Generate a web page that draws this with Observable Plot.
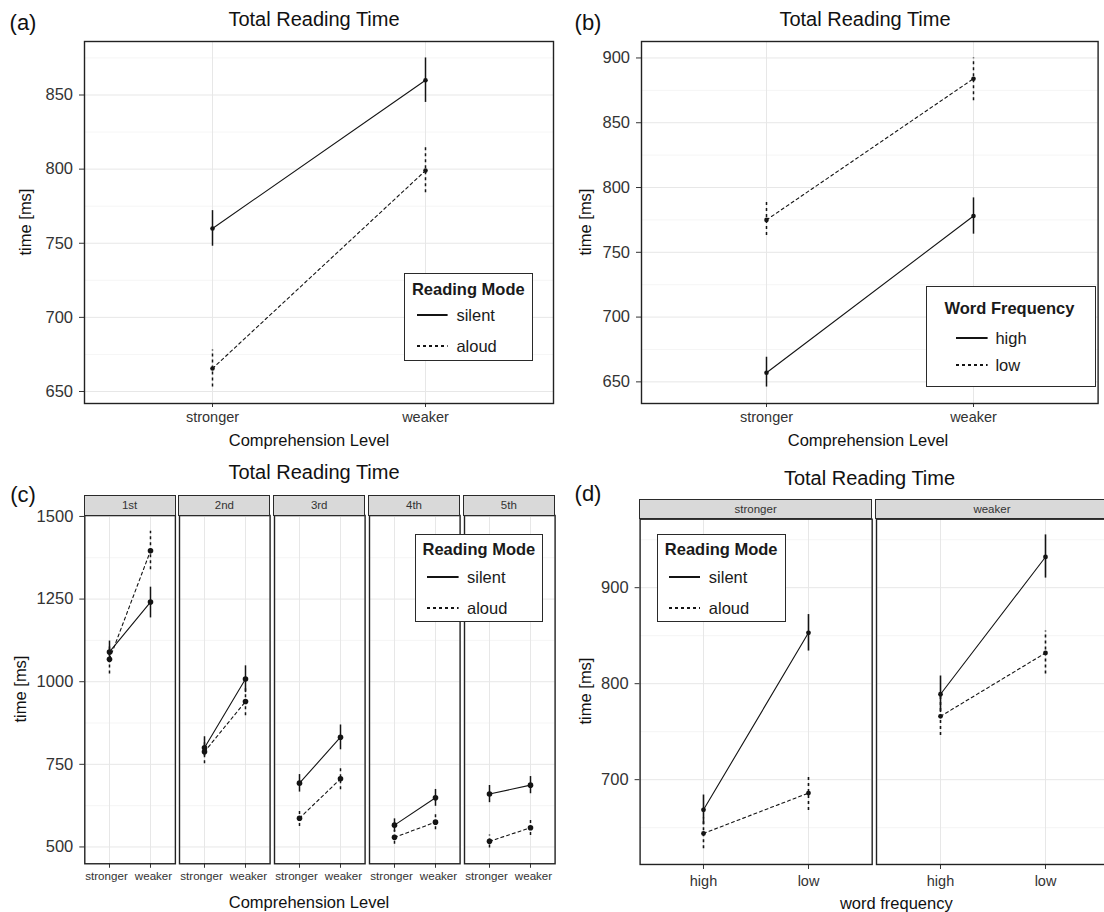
<!DOCTYPE html>
<html>
<head>
<meta charset="utf-8">
<script src="https://cdn.jsdelivr.net/npm/d3@7"></script>
<script src="https://cdn.jsdelivr.net/npm/@observablehq/plot@0.6"></script>
<style>
  html, body { margin: 0; padding: 0; background: #fff; }
  #root { position: relative; width: 1104px; height: 912px; overflow: hidden; background: #fff;
          font-family: "Liberation Sans", Arial, Helvetica, sans-serif; color: #000; }
  .t { position: absolute; white-space: nowrap; line-height: 1; }
  .legend { position: absolute; box-sizing: border-box; border: 1.8px solid #2a2a2a; background: #fff; }
  .strip { position: absolute; box-sizing: border-box; border: 1.4px solid #2a2a2a; background: #d9d9d9;
           color: #333; font-size: 11.5px; display: flex; align-items: center; justify-content: center; }
</style>
</head>
<body>
<div id="root"></div>
<script>
// ------------------------------------------------------------------ DATA
const levels = ["stronger", "weaker"];          // comprehension level
const freqs = ["high", "low"];                  // word frequency
const grades = ["1st", "2nd", "3rd", "4th", "5th"];

// (a) reading mode, by comprehension level [stronger, weaker]
const aSilentMean = [760, 860];
const aSilentLo   = [748, 845];
const aSilentHi   = [772, 875];
const aAloudMean  = [665.5, 799];
const aAloudLo    = [653, 784];
const aAloudHi    = [678, 815];

// (b) word frequency, by comprehension level [stronger, weaker]
const bHighMean = [657, 778];
const bHighLo   = [646, 764];
const bHighHi   = [669, 792];
const bLowMean  = [775, 884];
const bLowLo    = [763, 867];
const bLowHi    = [789, 900];

// (c) reading mode by grade; one array per (mode, level), over grades 1st..5th
const cSilentStrongMean = [1090, 800, 693, 566, 660];
const cSilentStrongLo   = [1057, 775, 666, 545, 634];
const cSilentStrongHi   = [1123, 825, 719, 585, 686];
const cSilentWeakMean   = [1241, 1008, 832, 649, 687];
const cSilentWeakLo     = [1193, 967, 794, 623, 661];
const cSilentWeakHi     = [1286, 1048, 869, 674, 713];
const cAloudStrongMean  = [1068, 788, 587, 529, 517];
const cAloudStrongLo    = [1023, 752, 562, 508, 497];
const cAloudStrongHi    = [1113, 834, 612, 550, 536];
const cAloudWeakMean    = [1396, 940, 706, 575, 558];
const cAloudWeakLo      = [1339, 897, 673, 552, 535];
const cAloudWeakHi      = [1455, 982, 739, 598, 580];

// (d) reading mode by word frequency; arrays over comprehension level [stronger, weaker]
const dSilentHighMean = [668.6, 789];
const dSilentHighLo   = [653, 770];
const dSilentHighHi   = [684, 808];
const dSilentLowMean  = [853, 932];
const dSilentLowLo    = [834, 910];
const dSilentLowHi    = [872, 955];
const dAloudHighMean  = [644, 766];
const dAloudHighLo    = [628, 746];
const dAloudHighHi    = [660, 787];
const dAloudLowMean   = [686, 832];
const dAloudLowLo     = [668, 810];
const dAloudLowHi     = [704, 855];

// tick values
const aTicks = [650, 700, 750, 800, 850];
const aMinor = [675, 725, 775, 825, 875];
const bTicks = [650, 700, 750, 800, 850, 900];
const bMinor = [675, 725, 775, 825, 875];
const cTicks = [500, 750, 1000, 1250, 1500];
const cMinor = [625, 875, 1125, 1375];
const dTicks = [700, 800, 900];
const dMinor = [650, 750, 850, 950];

// ------------------------------------------------------------------ helpers
const INK = "#141414";
const DASH = "3,3";
const root = document.getElementById("root");

function rows(xs, series, mean, lo, hi) {
  return xs.map((x, i) => ({x, series, mean: mean[i], lo: lo[i], hi: hi[i]}));
}
function expanded(rs) {          // ggplot-style 5% expansion of the data range
  const lo = d3.min(rs, d => d.lo), hi = d3.max(rs, d => d.hi);
  const pad = (hi - lo) * 0.05;
  return [lo - pad, hi + pad];
}

function chart(o) {
  const {data, xDomain, series, yDomain, yTicks, yMinor, showY, frame, svgLeft, svgTop, svgWidth, svgHeight,
         xTickSize = 4.5, xTickPad = 4, xFont = 14.5, dotR = 2.3, errW = 1.5, xShift = null} = o;
  const marks = [
    Plot.ruleY(yMinor, {stroke: "#f3f3f3", strokeWidth: 0.8}),
    Plot.ruleY(yTicks, {stroke: "#e7e7e7", strokeWidth: 1}),
    Plot.ruleX(xDomain, {stroke: "#e7e7e7", strokeWidth: 1})
  ];
  for (const s of series) {
    const r = data.filter(d => d.series === s.name);
    marks.push(
      Plot.ruleX(r, {x: "x", y1: "lo", y2: "hi", stroke: INK, strokeWidth: errW, strokeDasharray: s.dash}),
      Plot.line(r, {x: "x", y: "mean", stroke: INK, strokeWidth: 1.1, strokeDasharray: s.dash}),
      Plot.dot(r, {x: "x", y: "mean", r: dotR, fill: INK})
    );
  }
  marks.push(Plot.frame({stroke: "#222", strokeWidth: 1.4}));
  const svg = Plot.plot({
    width: svgWidth, height: svgHeight,
    marginLeft: frame.left - svgLeft,
    marginRight: svgLeft + svgWidth - frame.right,
    marginTop: frame.top - svgTop,
    marginBottom: svgTop + svgHeight - frame.bottom,
    style: {fontFamily: '"Liberation Sans", Arial, sans-serif', fontSize: "16.5px", color: "#333",
            background: "transparent", overflow: "visible", maxWidth: "none"},
    x: {type: "point", domain: xDomain, padding: 0.6, axis: "bottom", tickSize: xTickSize, tickPadding: xTickPad, label: null},
    y: {domain: yDomain, nice: false, ticks: yTicks, tickFormat: d => String(d), tickSize: 5, tickPadding: 6.5,
        label: null, axis: showY ? "left" : null},
    marks
  });
  svg.style.position = "absolute";
  svg.style.left = svgLeft + "px";
  svg.style.top = svgTop + "px";
  svg.style.overflow = "visible";
  svg.querySelectorAll('[aria-label^="x-axis"] text').forEach(t => {
    t.style.fontSize = xFont + "px";
    if (xShift && xShift[t.textContent] != null) t.setAttribute("dx", xShift[t.textContent]);
  });
  svg.querySelectorAll('[aria-label^="y-axis"] text').forEach(t => { t.style.fontSize = "16.5px"; });
  root.appendChild(svg);
  return svg;
}

function text(str, cx, cy, {size = 16.5, weight = "normal", rotate = 0, color = "#111", anchor = "middle"} = {}) {
  const d = document.createElement("div");
  d.className = "t";
  d.textContent = str;
  d.style.left = cx + "px";
  d.style.top = cy + "px";
  d.style.fontSize = size + "px";
  d.style.fontWeight = weight;
  d.style.color = color;
  const tx = anchor === "middle" ? "-50%" : "0";
  d.style.transform = `translate(${tx}, -50%)` + (rotate ? ` rotate(${rotate}deg)` : "");
  root.appendChild(d);
}

function legend(title, items, box, lay) {
  const d = document.createElement("div");
  d.className = "legend";
  Object.assign(d.style, {left: box.left + "px", top: box.top + "px", width: box.w + "px", height: box.h + "px"});
  root.appendChild(d);
  const add = (str, x, y, bold) => {
    const t = document.createElement("div");
    t.className = "t";
    t.textContent = str;
    Object.assign(t.style, {left: x + "px", top: y + "px", fontSize: "16.5px", fontWeight: bold ? "bold" : "normal",
                            transform: "translate(0,-50%)", color: "#1a1a1a"});
    d.appendChild(t);
  };
  add(title, lay.titleX, lay.titleY, true);
  items.forEach((it, i) => {
    const y = lay.itemY[i];
    const s = d3.create("svg").attr("width", lay.lineX2 - lay.lineX1 + 2).attr("height", 6)
      .style("position", "absolute").style("left", (lay.lineX1 - 1) + "px").style("top", (y - 3) + "px");
    s.append("line").attr("x1", 1).attr("x2", lay.lineX2 - lay.lineX1 + 1).attr("y1", 3).attr("y2", 3)
      .attr("stroke", INK).attr("stroke-width", 2).attr("stroke-dasharray", it.dash || null);
    d.appendChild(s.node());
    add(it.name, lay.textX, y, false);
  });
}

function strip(label, left, top, w, h) {
  const d = document.createElement("div");
  d.className = "strip";
  d.textContent = label;
  Object.assign(d.style, {left: left + "px", top: top + "px", width: w + "px", height: h + "px"});
  root.appendChild(d);
}

const modeSeries = [{name: "silent", dash: null}, {name: "aloud", dash: DASH}];
const freqSeries = [{name: "high", dash: null}, {name: "low", dash: DASH}];

// ------------------------------------------------------------------ panel (a)
const aData = [
  ...rows(levels, "silent", aSilentMean, aSilentLo, aSilentHi),
  ...rows(levels, "aloud", aAloudMean, aAloudLo, aAloudHi)
];
chart({data: aData, xDomain: levels, series: modeSeries, yDomain: expanded(aData), yTicks: aTicks, yMinor: aMinor,
       showY: true, frame: {left: 84, top: 41, right: 553, bottom: 403},
       svgLeft: 0, svgTop: 0, svgWidth: 562, svgHeight: 440, xTickSize: 4, xTickPad: 4});
text("(a)", 23, 23, {size: 22});
text("Total Reading Time", 314, 18.5, {size: 20});
text("Comprehension Level", 309, 440);
text("time [ms]", 24.6, 222, {rotate: -90});
legend("Reading Mode", modeSeries, {left: 404.4, top: 273, w: 128.4, h: 88},
       {titleX: 6.5, titleY: 15, itemY: [41.3, 72], lineX1: 11.6, lineX2: 42.2, textX: 51});

// ------------------------------------------------------------------ panel (b)
const bData = [
  ...rows(levels, "high", bHighMean, bHighLo, bHighHi),
  ...rows(levels, "low", bLowMean, bLowLo, bLowHi)
];
chart({data: bData, xDomain: levels, series: freqSeries, yDomain: expanded(bData), yTicks: bTicks, yMinor: bMinor,
       showY: true, frame: {left: 641, top: 41, right: 1097.6, bottom: 403},
       svgLeft: 570, svgTop: 0, svgWidth: 534, svgHeight: 440, xTickSize: 4, xTickPad: 4});
text("(b)", 588, 23, {size: 22});
text("Total Reading Time", 865, 18.5, {size: 20});
text("Comprehension Level", 868, 440);
text("time [ms]", 585.4, 222, {rotate: -90});
legend("Word Frequency", freqSeries, {left: 925.5, top: 286, w: 170.5, h: 101},
       {titleX: 18, titleY: 20.7, itemY: [51, 78], lineX1: 29.2, lineX2: 60.8, textX: 68.9});

// ------------------------------------------------------------------ panel (c)
const cData = [];
grades.forEach((g, i) => {
  cData.push(
    {grade: g, x: "stronger", series: "silent", mean: cSilentStrongMean[i], lo: cSilentStrongLo[i], hi: cSilentStrongHi[i]},
    {grade: g, x: "weaker",   series: "silent", mean: cSilentWeakMean[i],   lo: cSilentWeakLo[i],   hi: cSilentWeakHi[i]},
    {grade: g, x: "stronger", series: "aloud",  mean: cAloudStrongMean[i],  lo: cAloudStrongLo[i],  hi: cAloudStrongHi[i]},
    {grade: g, x: "weaker",   series: "aloud",  mean: cAloudWeakMean[i],    lo: cAloudWeakLo[i],    hi: cAloudWeakHi[i]}
  );
});
const cDomain = expanded(cData);
const cW = 90.6, cGap = 4.2, cLeft0 = 84.3;
grades.forEach((g, i) => {
  const fl = cLeft0 + i * (cW + cGap), fr = fl + cW;
  const sl = i === 0 ? 0 : fl - 2;
  chart({data: cData.filter(d => d.grade === g), xDomain: levels, series: modeSeries, yDomain: cDomain,
         yTicks: cTicks, yMinor: cMinor, showY: i === 0,
         frame: {left: fl, top: 515, right: fr, bottom: 863.3},
         svgLeft: sl, svgTop: 500, svgWidth: fr + 2 - sl, svgHeight: 395,
         xTickSize: 4.5, xTickPad: 3.5, xFont: 11.6, dotR: 2.8, errW: 1.5,
         xShift: {stronger: -3, weaker: 3}});
  strip(g, fl - 0.7, 495, cW + 1.4, 20.7);
});
text("(c)", 23, 495, {size: 22});
text("Total Reading Time", 314, 472.3, {size: 20});
text("Comprehension Level", 309, 901.7);
text("time [ms]", 20.4, 689, {rotate: -90});
legend("Reading Mode", modeSeries, {left: 415, top: 534, w: 127.7, h: 88.3},
       {titleX: 6.5, titleY: 14.3, itemY: [41.7, 72.7], lineX1: 10.6, lineX2: 42.2, textX: 51});

// ------------------------------------------------------------------ panel (d)
const dData = [];
levels.forEach((lv, i) => {
  dData.push(
    {group: lv, x: "high", series: "silent", mean: dSilentHighMean[i], lo: dSilentHighLo[i], hi: dSilentHighHi[i]},
    {group: lv, x: "low",  series: "silent", mean: dSilentLowMean[i],  lo: dSilentLowLo[i],  hi: dSilentLowHi[i]},
    {group: lv, x: "high", series: "aloud",  mean: dAloudHighMean[i],  lo: dAloudHighLo[i],  hi: dAloudHighHi[i]},
    {group: lv, x: "low",  series: "aloud",  mean: dAloudLowMean[i],   lo: dAloudLowLo[i],   hi: dAloudLowHi[i]}
  );
});
const dDomain = expanded(dData);
const dW = 232.1, dGap = 4.2, dLeft0 = 639.6;
levels.forEach((lv, i) => {
  const fl = dLeft0 + i * (dW + dGap), fr = fl + dW;
  const sl = i === 0 ? 570 : fl - 2;
  chart({data: dData.filter(d => d.group === lv), xDomain: freqs, series: modeSeries, yDomain: dDomain,
         yTicks: dTicks, yMinor: dMinor, showY: i === 0,
         frame: {left: fl, top: 518.7, right: fr, bottom: 864},
         svgLeft: sl, svgTop: 500, svgWidth: fr + 2 - sl, svgHeight: 395,
         xTickSize: 5, xTickPad: 6.5, xFont: 14.5, dotR: 2.4, errW: 1.6});
  strip(lv, fl - 0.7, 499.3, dW + 1.4, 20.1);
});
text("(d)", 588, 494, {size: 22});
text("Total Reading Time", 869.5, 478.3, {size: 20});
text("word frequency", 896.3, 903.3);
text("time [ms]", 585.4, 691, {rotate: -90});
legend("Reading Mode", modeSeries, {left: 656.8, top: 534, w: 129.1, h: 88.3},
       {titleX: 7, titleY: 14.3, itemY: [41.7, 72.7], lineX1: 11.2, lineX2: 42.2, textX: 51});
</script>
</body>
</html>
